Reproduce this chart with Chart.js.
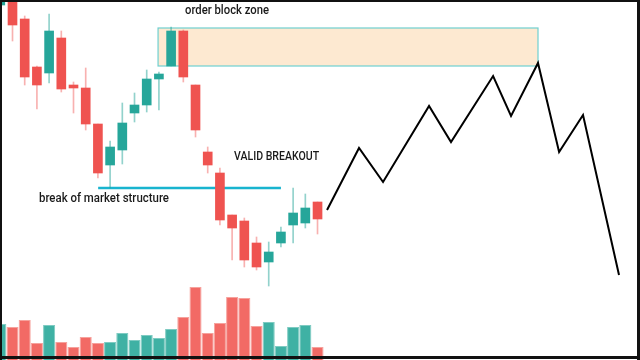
<!DOCTYPE html>
<html>
<head>
<meta charset="utf-8">
<script src="https://cdn.jsdelivr.net/npm/chart.js@4.4.1/dist/chart.umd.min.js"></script>
<style>
  html, body { margin: 0; padding: 0; background: #fff; }
  canvas { display: block; }
</style>
</head>
<body>
<canvas id="obChart" width="640" height="360"></canvas>
<script>
// candle data, one entry per bar (bar 0 is cut off at the left edge)
const opens  = [355, 365, 341, 293, 287, 322, 275, 272, 236, 195, 210, 247, 255, 281, 294, 329, 275, 208, 187, 145, 139, 117,  98, 117, 135, 137, 158];
const highs  = [375, 370, 344, 294, 346, 329, 278, 292, 236, 219, 257, 267, 290, 288, 333, 330, 275, 213, 192, 145, 142, 123, 118, 133, 172, 166, 158];
const lows   = [354, 319, 275, 251, 277, 268, 247, 230, 182, 172, 196, 238, 248, 250, 294, 278, 223, 187, 135, 100,  93,  90,  74, 113, 117, 132, 126];
const closes = [370, 335, 283, 275, 329, 271, 272, 236, 187, 213, 237, 255, 281, 286, 329, 283, 230, 195, 140, 132, 100,  93, 108, 128, 147, 152, 141];
const volumes = [36, 33, 40, 17, 35, 18, 13, 23, 17, 18, 27, 20, 25, 22, 31, 43, 73, 27, 37, 63, 62, 34, 38, 14, 33, 35, 13];

// hand drawn projection after the breakout (x in bar units)
const pathX = [26.78, 29.40, 31.37, 35.14, 36.94, 40.39, 41.86, 44.07, 45.80, 47.76, 50.71];
const pathY = [150, 212, 178, 254, 218, 284, 244, 297, 208, 245, 85];

// zones / annotations
const obZone = { from: 12.93, to: 44.07, low: 294, high: 332 };
const bmsLine = { from: 8.02, to: 23.0, level: 172 };
const notes = [
  { text: 'order block zone', x: 15.14, y: 349, w: 84 },
  { text: 'VALID BREAKOUT', x: 19.16, y: 203, w: 85 },
  { text: 'break of market structure', x: 3.17, y: 161, w: 130 }
];

const UP = '#26a69a', DOWN = '#ef5350';
const isUp = opens.map((o, i) => closes[i] >= o);
const bodies = opens.map((o, i) => ({ x: i, y: [o, closes[i]] }));
const wicks = lows.map((l, i) => ({ x: i, y: [l, highs[i]] }));
const vols = volumes.map((v, i) => ({ x: i, y: v }));
const path = pathX.map((x, i) => ({ x: x, y: pathY[i] }));

const zonePlugin = {
  id: 'zones',
  beforeDatasetsDraw(chart) {
    const { ctx, scales: { x, y } } = chart;
    const l = x.getPixelForValue(obZone.from), r = x.getPixelForValue(obZone.to);
    const t = y.getPixelForValue(obZone.high), b = y.getPixelForValue(obZone.low);
    ctx.save();
    ctx.fillStyle = '#fde9d1';
    ctx.fillRect(l, t, r - l, b - t);
    ctx.strokeStyle = '#6fd0d0';
    ctx.lineWidth = 1.2;
    ctx.strokeRect(l, t, r - l, b - t);

    const ly = y.getPixelForValue(bmsLine.level);
    ctx.strokeStyle = '#18b4cf';
    ctx.lineWidth = 2.5;
    ctx.beginPath();
    ctx.moveTo(x.getPixelForValue(bmsLine.from), ly);
    ctx.lineTo(x.getPixelForValue(bmsLine.to), ly);
    ctx.stroke();
    ctx.restore();
  },
  afterDraw(chart) {
    const { ctx, scales: { x, y } } = chart;
    ctx.save();
    ctx.fillStyle = '#1a1a1a';
    ctx.textBaseline = 'middle';
    notes.forEach(n => {
      ctx.font = '500 12px Roboto';
      ctx.fillText(n.text, x.getPixelForValue(n.x), y.getPixelForValue(n.y), n.w);
    });
    // frame
    ctx.fillStyle = '#111';
    ctx.fillRect(0, 0, 640, 2);
    ctx.fillRect(0, 0, 2, 360);
    ctx.fillRect(637, 0, 3, 360);
    ctx.fillRect(0, 356, 640, 3);
    ctx.restore();
  }
};

new Chart(document.getElementById('obChart'), {
  type: 'bar',
  data: {
    datasets: [
      {
        type: 'line',
        data: path,
        borderColor: '#000',
        borderWidth: 2,
        pointRadius: 0,
        tension: 0,
        yAxisID: 'y',
        order: 1
      },
      {
        data: bodies,
        backgroundColor: isUp.map(u => u ? UP : DOWN),
        barThickness: 9,
        grouped: false,
        yAxisID: 'y',
        order: 2
      },
      {
        data: wicks,
        backgroundColor: isUp.map(u => u ? 'rgba(38,166,154,0.5)' : 'rgba(239,83,80,0.45)'),
        barThickness: 1,
        grouped: false,
        yAxisID: 'y',
        order: 3
      },
      {
        data: vols,
        backgroundColor: isUp.map(u => u ? '#3fb1a4' : '#f26a65'),
        borderColor: isUp.map(u => u ? '#7fcbc2' : '#f6a29d'),
        borderWidth: 1,
        barPercentage: 0.99,
        categoryPercentage: 1,
        grouped: false,
        yAxisID: 'yv',
        order: 4
      }
    ]
  },
  options: {
    responsive: false,
    animation: false,
    layout: { padding: 0 },
    plugins: { legend: { display: false }, tooltip: { enabled: false } },
    scales: {
      x: { type: 'linear', display: false, offset: false, min: -0.0246, max: 52.43 },
      y: { display: false, min: 0, max: 360 },
      yv: { display: false, min: 0, max: 360 }
    }
  },
  plugins: [zonePlugin]
});
</script>
</body>
</html>
